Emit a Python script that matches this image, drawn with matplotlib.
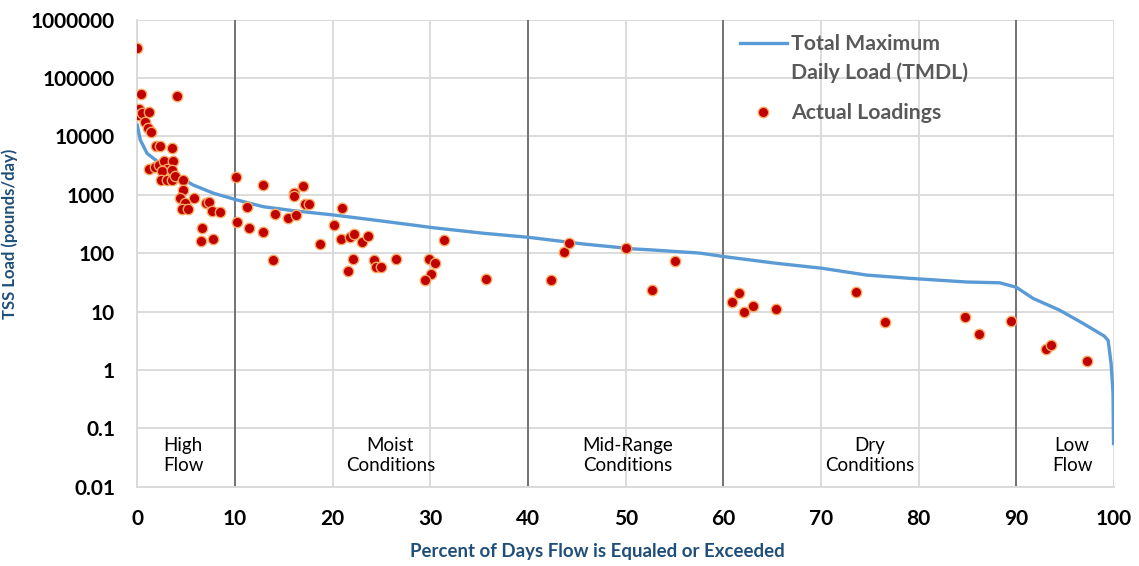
import matplotlib
matplotlib.use("Agg")
import matplotlib.pyplot as plt
from matplotlib.ticker import FixedLocator, NullLocator

# Load duration curve (TMDL) read along the flow-exceedance axis
tmdl_pct = [0, 0.3, 1.0, 2.3, 3.7, 5.7, 7.8, 10.2, 12.9, 16.0, 20.1, 25.0, 30.3,
            35.4, 40.1, 45.7, 50.8, 52.8, 57.6, 60.1, 65.4, 70.1, 74.7, 79.1,
            84.9, 88.3, 90.0, 91.7, 94.4, 96.8, 99.0, 99.4, 99.7, 99.9, 99.95]
tmdl_load = [15500, 8700, 5100, 3450, 2330, 1470, 1060, 813, 623, 532, 449, 355,
             272, 219, 186, 143, 118, 113, 100, 87, 67, 55, 42, 37, 32, 31, 26,
             16.8, 10.6, 6.3, 3.8, 3.2, 1.3, 0.4, 0.055]

# Observed TSS loads
obs_pct = [0.0, 0.38, 4.1, 0.2, 0.05, 0.48, 1.23, 0.75, 1.13, 1.37, 1.91, 2.32,
           3.52, 1.23, 1.81, 2.25, 2.73, 3.68, 3.0, 2.56, 3.52, 2.39, 3.07, 3.52,
           3.86, 4.71, 4.71, 4.37, 5.83, 4.88, 4.54, 5.22, 7.03, 7.37, 7.61, 8.46,
           6.65, 6.49, 7.78, 10.1, 10.17,
           12.83, 11.26, 11.46, 12.83, 14.1, 13.92, 15.46, 16.24, 16.04, 16.04,
           17.0, 17.17, 17.6, 18.7, 20.13, 20.98, 20.82, 21.77, 22.2, 23.0, 23.64,
           22.05, 21.53, 24.26, 24.43, 24.94, 26.48, 29.86, 30.47, 30.06, 29.48,
           31.39, 35.66,
           42.31, 43.67, 44.22, 49.99, 52.71, 55.1,
           60.84, 61.59, 62.1, 63.05, 65.4, 73.63, 76.53, 84.75, 86.15, 89.43,
           93.0, 93.59, 97.24]
obs_load = [330000, 53000, 49000, 29000, 23000, 24800, 26400, 17400, 14000, 11900,
            6800, 6800, 6400, 2720, 3000, 3230, 3820, 3820, 2720, 2550, 2640, 1790,
            1790, 1790, 2090, 1790, 1200, 867, 867, 730, 562, 562, 713, 760, 532,
            500, 272, 163, 174, 2040, 336,
            1470, 624, 266, 233, 461, 76, 404, 449, 1080, 950, 1410, 693, 693, 142,
            300, 598, 174, 186, 210, 157, 196, 79, 49, 76, 58, 58, 79, 79, 67, 44,
            34, 168, 36,
            34, 103, 147, 121, 23, 74,
            14.4, 21, 9.9, 12.4, 11, 21.8, 6.5, 8.1, 4.1, 6.9, 2.28, 2.67, 1.4]

# Flow regime boundaries and labels
regime_bounds = [10, 40, 60, 90]
regime_labels = ["High\nFlow", "Moist\nConditions", "Mid-Range\nConditions",
                 "Dry\nConditions", "Low\nFlow"]
regime_centers = [4.7, 25.9, 50.2, 75.0, 95.7]

xticks = [0, 10, 20, 30, 40, 50, 60, 70, 80, 90, 100]
yticks = [0.01, 0.1, 1, 10, 100, 1000, 10000, 100000, 1000000]
ytick_labels = ["0.01", "0.1", "1", "10", "100", "1000", "10000", "100000", "1000000"]

plt.rcParams["font.family"] = ["Lato", "DejaVu Sans"]

fig = plt.figure(figsize=(11.39, 5.66), dpi=100)
ax = fig.add_axes([137.3 / 1139, 1 - 486.7 / 566, (1114 - 137.3) / 1139,
                   (486.7 - 19.5) / 566])

ax.set_yscale("log")
ax.set_xlim(0, 100)
ax.set_ylim(0.01, 1000000)

ax.xaxis.set_major_locator(FixedLocator(xticks))
ax.yaxis.set_major_locator(FixedLocator(yticks))
ax.yaxis.set_minor_locator(NullLocator())
ax.set_yticklabels(ytick_labels)
ax.set_xticklabels([str(v) for v in xticks])
ax.tick_params(axis="both", length=0, pad=16, labelsize=15, labelcolor="black")
for lab in ax.get_xticklabels() + ax.get_yticklabels():
    lab.set_fontweight("bold")

ax.grid(True, which="major", color="#D9D9D9", linewidth=1.3, zorder=0)
ax.set_axisbelow(True)
for side in ["top", "right"]:
    ax.spines[side].set_visible(False)
for side in ["left", "bottom"]:
    ax.spines[side].set_color("#D9D9D9")
    ax.spines[side].set_linewidth(1.3)

for b in regime_bounds:
    ax.axvline(b, color="#737373", linewidth=1.4, zorder=1)

ax.plot(tmdl_pct, tmdl_load, color="#5B9BD5", linewidth=2.4,
        zorder=3, label="Total Maximum\nDaily Load (TMDL)")
ax.plot(obs_pct, obs_load, linestyle="none", marker="o", markersize=7.5,
        markerfacecolor="#C00000", markeredgecolor="#F8A960",
        markeredgewidth=1.0, zorder=4, label="Actual Loadings")

for cx, txt in zip(regime_centers, regime_labels):
    ax.text(cx, 0.034, txt, ha="center", va="center", fontsize=13.5,
            color="black", linespacing=1.2, zorder=5)

ax.set_ylabel("TSS Load (pounds/day)", fontsize=12, fontweight="bold",
              color="#1F4E79")
ax.yaxis.set_label_coords(-(137.3 - 18) / (1114 - 137.3), (486.7 - 234) / 467.2)
fig.text(597 / 1139, 1 - 551 / 566, "Percent of Days Flow is Equaled or Exceeded",
         ha="center", va="center", fontsize=13.4, fontweight="bold", color="#1F4E79")

leg_fs = 15.3
leg_ls = 1.5
leg = ax.legend(loc="upper left", bbox_to_anchor=(740 / 1139, 1 - 34 / 566),
                bbox_transform=fig.transFigure, frameon=False, fontsize=leg_fs,
                handlelength=2.2, handletextpad=0.2, labelspacing=0.95,
                borderpad=0, borderaxespad=0)
for t in leg.get_texts():
    t.set_color("#595959")
    t.set_fontweight("bold")
    t.set_linespacing(leg_ls)
# keep the TMDL swatch level with the first line of its two-line label
tmdl_handle = leg.get_lines()[0]
tmdl_handle.set_ydata([y + 0.5 * leg_ls * leg_fs for y in tmdl_handle.get_ydata()])

fig.savefig("out.png", dpi=100)
